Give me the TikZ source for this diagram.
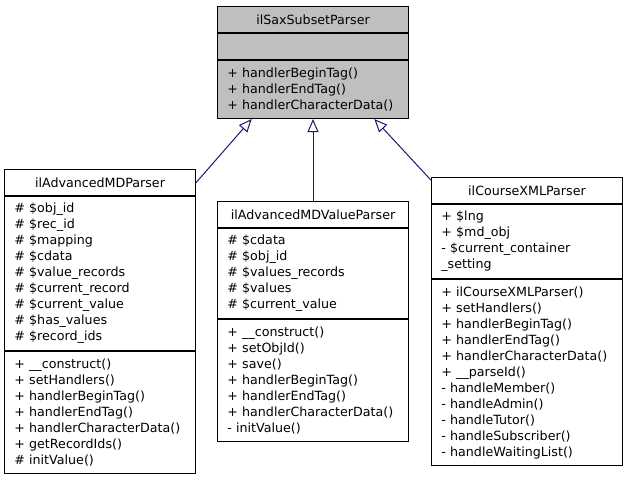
\documentclass[tikz,border=0pt]{standalone}
\usepackage{fontspec}
\setmainfont{DejaVu Sans}
\usetikzlibrary{positioning, arrows.meta}
\definecolor{boxgray}{HTML}{BFBFBF}
\definecolor{edgeblue}{HTML}{191970}
\tikzset{
	cls/.style={draw, line width=0.75pt, minimum width=142.5pt, text width=128.5pt, inner xsep=7.5pt, inner ysep=0pt, font=\fontsize{9.5}{12}\selectfont},
	head/.style={cls, minimum height=19.5pt, align=center},
	part/.style={cls, minimum height=12pt*#1+7.5pt, align=left},
	inherit/.style={draw=edgeblue, line width=0.75pt, -{Triangle[open, length=9.75pt, width=8.25pt]}}
}
\begin{document}
\begin{tikzpicture}[x=0.75pt, y=-0.75pt]
	\useasboundingbox (0,0) rectangle (627,480);
	
	% base class
	\node[head, fill=boxgray, anchor=north] (sax) at (313,6) {ilSaxSubsetParser};
	\node[part=1, fill=boxgray, below=0pt of sax] (saxattr) {};
	\node[part=3, fill=boxgray, below=0pt of saxattr] (saxops) {+ handlerBeginTag()\\+ handlerEndTag()\\+ handlerCharacterData()};
	
	% derived classes
	\node[head, anchor=north] (adv) at (100,169) {ilAdvancedMDParser};
	\node[part=9, below=0pt of adv] (advattr) {\# \$obj\_id\\\# \$rec\_id\\\# \$mapping\\\# \$cdata\\\# \$value\_records\\\# \$current\_record\\\# \$current\_value\\\# \$has\_values\\\# \$record\_ids};
	\node[part=7, below=0pt of advattr] (advops) {+ \_\_construct()\\+ setHandlers()\\+ handlerBeginTag()\\+ handlerEndTag()\\+ handlerCharacterData()\\+ getRecordIds()\\\# initValue()};
	
	\node[head, anchor=north] (val) at (313,201) {ilAdvancedMDValueParser};
	\node[part=5, below=0pt of val] (valattr) {\# \$cdata\\\# \$obj\_id\\\# \$values\_records\\\# \$values\\\# \$current\_value};
	\node[part=7, below=0pt of valattr] (valops) {+ \_\_construct()\\+ setObjId()\\+ save()\\+ handlerBeginTag()\\+ handlerEndTag()\\+ handlerCharacterData()\\- initValue()};
	
	\node[head, anchor=north] (crs) at (527,177) {ilCourseXMLParser};
	\node[part=4, below=0pt of crs] (crsattr) {+ \$lng\\+ \$md\_obj\\- \$current\_container\\\_setting};
	\node[part=11, below=0pt of crsattr] (crsops) {+ ilCourseXMLParser()\\+ setHandlers()\\+ handlerBeginTag()\\+ handlerEndTag()\\+ handlerCharacterData()\\+ \_\_parseId()\\- handleMember()\\- handleAdmin()\\- handleTutor()\\- handleSubscriber()\\- handleWaitingList()};
	
	% inheritance
	\draw[inherit] (adv.east) -- ([xshift=-46pt]saxops.south);
	\draw[inherit] (val.north) -- (saxops.south);
	\draw[inherit] ([yshift=-2.25pt]crs.north west) -- ([xshift=46pt]saxops.south);
\end{tikzpicture}
\end{document}
